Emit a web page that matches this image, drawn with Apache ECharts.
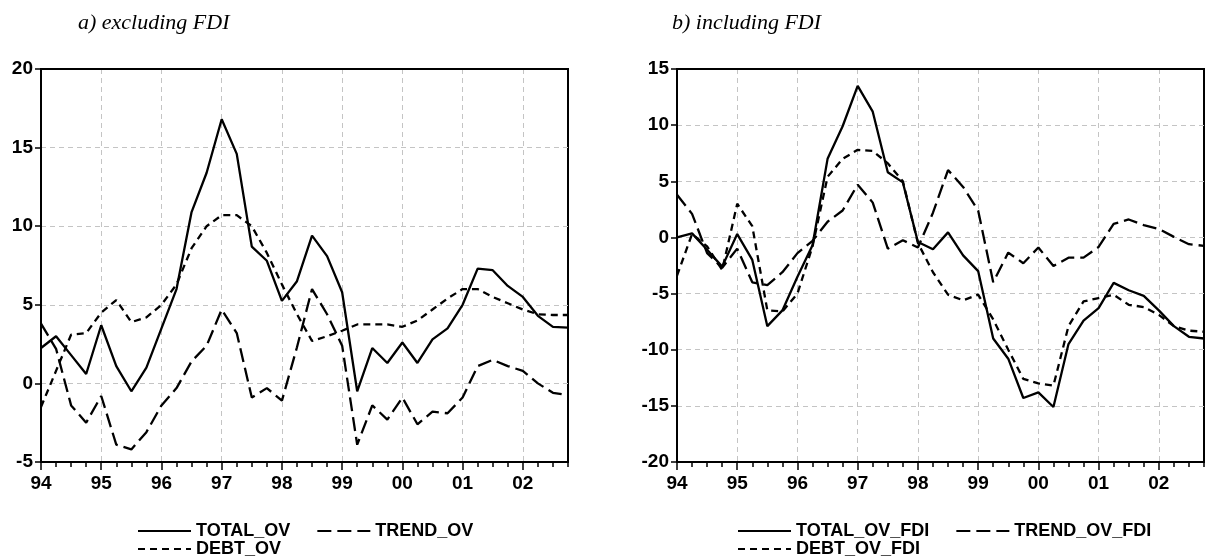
<!DOCTYPE html>
<html>
<head>
<meta charset="utf-8">
<script src="https://cdn.jsdelivr.net/npm/echarts/dist/echarts.min.js"></script>
<style>
  html, body { margin: 0; padding: 0; background: #fff; }
  #chart { width: 1206px; height: 558px; }
</style>
</head>
<body>
<div id="chart"></div>
<script>
// quarters 1994Q1 .. 2002Q4, labels on each Q1
const quarters = [];
const yearLabels = ['94', '95', '96', '97', '98', '99', '00', '01', '02'];
yearLabels.forEach(y => { for (let q = 1; q <= 4; q++) quarters.push(y + 'Q' + q); });

// a) excluding FDI
const totalOv = [2.25, 3.0, 1.8, 0.6, 3.7, 1.1, -0.5, 1.0, 3.5, 6.0, 10.9, 13.4,
  16.8, 14.6, 8.7, 7.8, 5.25, 6.5, 9.4, 8.1, 5.8, -0.5, 2.25, 1.3,
  2.6, 1.3, 2.8, 3.5, 5.0, 7.3, 7.2, 6.2, 5.5, 4.3, 3.6, 3.55];
const trendOv = [3.8, 2.2, -1.4, -2.5, -0.8, -3.9, -4.2, -3.1, -1.4, -0.3, 1.4, 2.4,
  4.7, 3.2, -0.9, -0.3, -1.1, 2.3, 6.0, 4.4, 2.4, -3.9, -1.4, -2.3,
  -0.9, -2.6, -1.8, -1.9, -0.9, 1.1, 1.5, 1.1, 0.8, 0.0, -0.6, -0.75];
const debtOv = [-1.5, 0.8, 3.1, 3.2, 4.5, 5.3, 3.9, 4.2, 5.0, 6.3, 8.6, 10.0,
  10.7, 10.7, 10.0, 8.3, 6.3, 4.4, 2.7, 3.0, 3.35, 3.75, 3.75, 3.75,
  3.6, 4.0, 4.7, 5.4, 6.0, 6.0, 5.5, 5.1, 4.7, 4.4, 4.35, 4.35];

// b) including FDI
const totalOvFdi = [0.0, 0.36, -1.1, -2.6, 0.3, -2.0, -7.9, -6.5, -3.5, -0.7, 7.0, 9.9,
  13.5, 11.2, 5.8, 4.9, -0.4, -1.05, 0.45, -1.6, -3.0, -9.0, -10.8, -14.3,
  -13.8, -15.1, -9.5, -7.4, -6.3, -4.05, -4.7, -5.2, -6.5, -7.9, -8.85, -9.0];
const trendOvFdi = [3.8, 2.1, -1.4, -2.7, -1.0, -4.0, -4.25, -3.1, -1.4, -0.3, 1.4, 2.4,
  4.7, 3.1, -1.0, -0.25, -0.9, 2.2, 6.0, 4.5, 2.4, -4.0, -1.35, -2.3,
  -0.9, -2.55, -1.8, -1.8, -0.85, 1.2, 1.6, 1.1, 0.75, 0.05, -0.6, -0.75];
const debtOvFdi = [-3.4, 0.3, -0.8, -2.9, 3.0, 1.0, -6.5, -6.6, -5.0, -0.8, 5.4, 7.0,
  7.8, 7.7, 6.6, 5.0, -0.5, -3.1, -5.1, -5.6, -5.1, -7.3, -10.0, -12.6,
  -13.0, -13.2, -7.9, -5.7, -5.4, -5.1, -6.0, -6.2, -6.9, -7.9, -8.3, -8.4];

const SANS = 'Liberation Sans, Arial, sans-serif';
const SERIF = 'Liberation Serif, Times New Roman, serif';
const SOLID = 'solid';
const LONG_DASH = [14, 6];
const SHORT_DASH = [7, 5];
const GRID_LINE = { color: '#c4c4c4', type: [5, 4], width: 1 };
const FRAME = { color: '#000', width: 2 };

const chart = echarts.init(document.getElementById('chart'));

// main x axis: quarter ticks, year labels, year gridlines
function xAxis(gridIndex) {
  return {
    type: 'category',
    gridIndex: gridIndex,
    data: quarters,
    boundaryGap: false,
    axisLine: { onZero: false, lineStyle: FRAME },
    axisTick: { interval: 0, length: 5, lineStyle: { color: '#000', width: 1.5 } },
    axisLabel: {
      interval: 3,
      margin: 12,
      color: '#000',
      fontFamily: SANS,
      fontWeight: 'bold',
      fontSize: 19,
      formatter: v => v.slice(0, 2)
    },
    splitLine: { show: true, interval: i => i % 4 === 0, lineStyle: GRID_LINE }
  };
}

// second x axis only for the longer year ticks
function yearTickAxis(gridIndex) {
  return {
    type: 'category',
    gridIndex: gridIndex,
    data: quarters,
    boundaryGap: false,
    position: 'bottom',
    axisLine: { show: false, onZero: false },
    axisTick: { interval: 3, length: 8, lineStyle: { color: '#000', width: 1.5 } },
    axisLabel: { show: false },
    splitLine: { show: false }
  };
}

// top x axis: just the top edge of the frame
function topFrameAxis(gridIndex) {
  return {
    type: 'category',
    gridIndex: gridIndex,
    data: quarters,
    boundaryGap: false,
    position: 'top',
    axisLine: { show: true, onZero: false, lineStyle: FRAME },
    axisTick: { show: false },
    axisLabel: { show: false },
    splitLine: { show: false }
  };
}

function yAxis(gridIndex, min, max) {
  return {
    type: 'value',
    gridIndex: gridIndex,
    min: min,
    max: max,
    interval: 5,
    axisLine: { show: true, lineStyle: FRAME },
    axisTick: { show: true, length: 6, lineStyle: { color: '#000', width: 1.5 } },
    axisLabel: {
      margin: 8,
      color: '#000',
      fontFamily: SANS,
      fontWeight: 'bold',
      fontSize: 19
    },
    splitLine: { lineStyle: GRID_LINE }
  };
}

function line(name, data, idx, dash) {
  return {
    name: name,
    type: 'line',
    xAxisIndex: idx,
    yAxisIndex: idx,
    data: data,
    symbol: 'none',
    itemStyle: { color: '#000' },
    lineStyle: { color: '#000', width: 2.3, type: dash }
  };
}

function legend(names, left, top) {
  return {
    data: names,
    left: left,
    top: top,
    padding: 0,
    itemWidth: 53,
    itemHeight: 14,
    itemGap: 26,
    selectedMode: false,
    itemStyle: { opacity: 0 },
    textStyle: { color: '#000', fontFamily: SANS, fontWeight: 'bold', fontSize: 18 }
  };
}

const titleStyle = { color: '#000', fontFamily: SERIF, fontStyle: 'italic', fontWeight: 'normal', fontSize: 22 };

chart.setOption({
  animation: false,
  backgroundColor: '#fff',
  title: [
    { text: 'a) excluding FDI', left: 78, top: 12, padding: 0, textStyle: titleStyle },
    { text: 'b) including FDI', left: 672, top: 12, padding: 0, textStyle: titleStyle }
  ],
  legend: [
    legend(['TOTAL_OV', 'TREND_OV'], 137, 522),
    legend(['DEBT_OV'], 137, 540),
    legend(['TOTAL_OV_FDI', 'TREND_OV_FDI'], 737, 522),
    legend(['DEBT_OV_FDI'], 737, 540)
  ],
  grid: [
    { left: 41, top: 69, width: 527, height: 393, show: true, borderColor: '#000', borderWidth: 2 },
    { left: 677, top: 69, width: 527, height: 393, show: true, borderColor: '#000', borderWidth: 2 }
  ],
  xAxis: [xAxis(0), xAxis(1), yearTickAxis(0), yearTickAxis(1), topFrameAxis(0), topFrameAxis(1)],
  yAxis: [yAxis(0, -5, 20), yAxis(1, -20, 15)],
  series: [
    line('TOTAL_OV', totalOv, 0, SOLID),
    line('TREND_OV', trendOv, 0, LONG_DASH),
    line('DEBT_OV', debtOv, 0, SHORT_DASH),
    line('TOTAL_OV_FDI', totalOvFdi, 1, SOLID),
    line('TREND_OV_FDI', trendOvFdi, 1, LONG_DASH),
    line('DEBT_OV_FDI', debtOvFdi, 1, SHORT_DASH)
  ]
});
</script>
</body>
</html>
